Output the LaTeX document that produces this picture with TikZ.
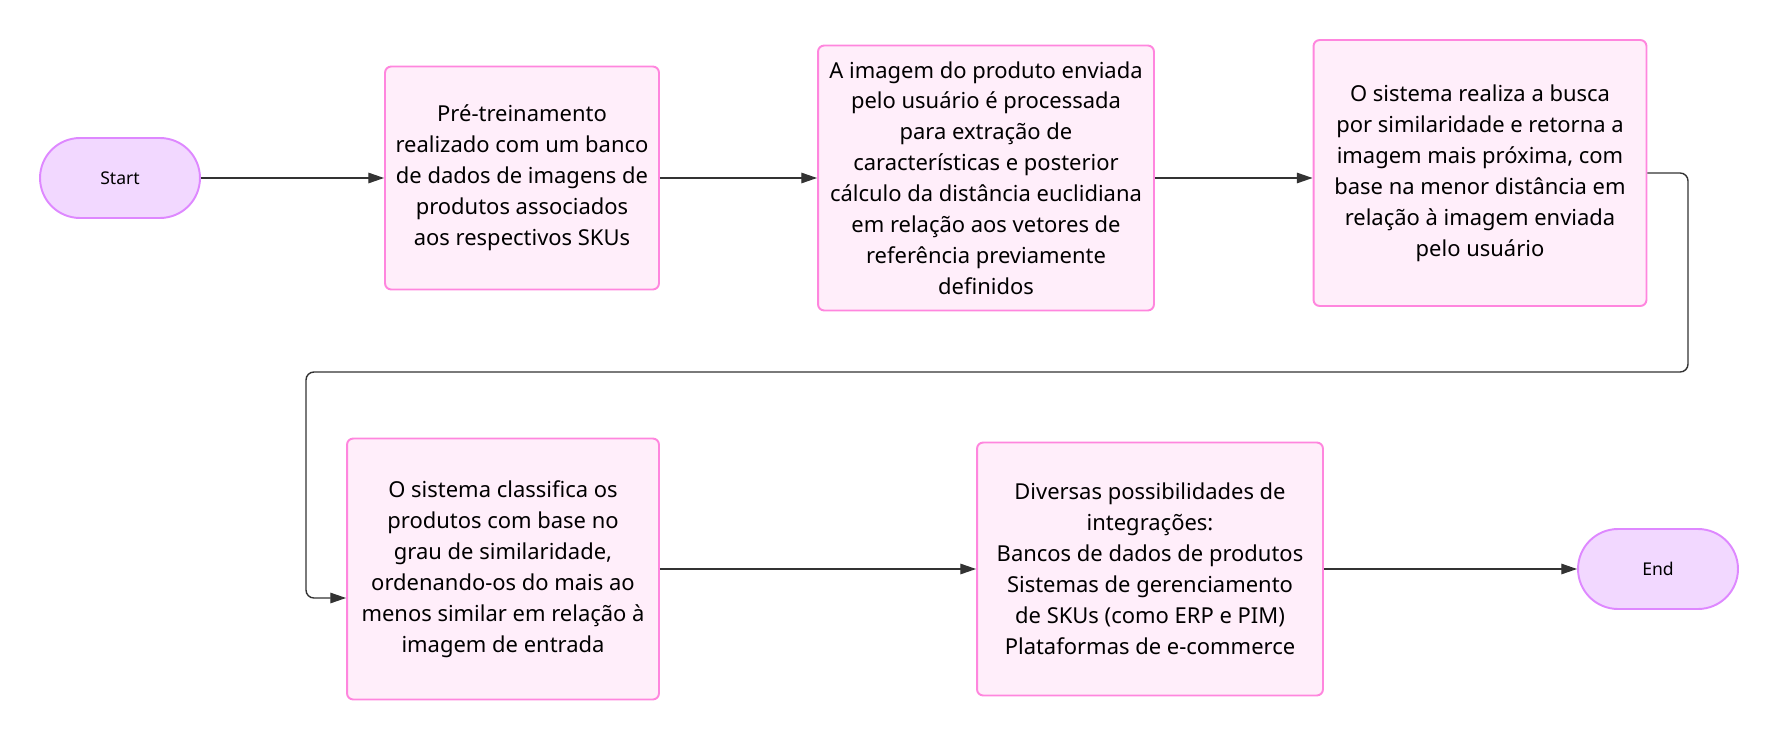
\documentclass[tikz,border=0pt]{standalone}
\usepackage{fontspec}
\setmainfont{Noto Sans}
\usepackage{tikz}
\usetikzlibrary{arrows.meta,positioning}
\definecolor{stepfill}{RGB}{255,238,250}
\definecolor{stepline}{RGB}{255,134,222}
\definecolor{termfill}{RGB}{242,216,255}
\definecolor{termline}{RGB}{222,136,255}
\definecolor{linkgray}{RGB}{51,51,51}

\begin{document}
\begin{tikzpicture}[x=0.02cm, y=-0.02cm,
    stepbox/.style={rectangle, rounded corners=3.5pt, draw=stepline, line width=1.1pt, fill=stepfill, align=center, inner sep=0pt, font=\fontsize{12.5}{17.6}\selectfont},
    term/.style={rectangle, rounded corners=0.8cm, draw=termline, line width=1.1pt, fill=termfill, minimum width=3.2cm, minimum height=1.6cm, font=\fontsize{10}{12}\selectfont},
    arrow/.style={-{Triangle[length=9pt, width=6pt]}, line width=0.8pt, linkgray}
]
\useasboundingbox (0,0) rectangle (1779,740);

\node[term] (start) at (120,178) {Start};
\node[stepbox, minimum width=5.48cm, minimum height=4.46cm] (p1) at (522,178) {Pré-treinamento\\realizado com um banco\\de dados de imagens de\\produtos associados\\aos respectivos SKUs};
\node[stepbox, minimum width=6.72cm, minimum height=5.3cm] (p2) at (986,178) {A imagem do produto enviada\\pelo usuário é processada\\para extração de\\características e posterior\\cálculo da distância euclidiana\\em relação aos vetores de\\referência previamente\\definidos};
\node[stepbox, minimum width=6.66cm, minimum height=5.32cm] (p3) at (1480,173) {O sistema realiza a busca\\por similaridade e retorna a\\imagem mais próxima, com\\base na menor distância em\\relação à imagem enviada\\pelo usuário};
\node[stepbox, minimum width=6.24cm, minimum height=5.22cm] (p4) at (503,569) {O sistema classifica os\\produtos com base no\\grau de similaridade,\\ordenando-os do mais ao\\menos similar em relação à\\imagem de entrada};
\node[stepbox, minimum width=6.92cm, minimum height=5.06cm] (p5) at (1150,569) {Diversas possibilidades de\\integrações:\\Bancos de dados de produtos\\Sistemas de gerenciamento\\de SKUs (como ERP e PIM)\\Plataformas de e-commerce};
\node[term] (finish) at (1658,569) {End};

\coordinate (turn) at (1688,372);
\coordinate (back) at (306,598);

\draw[arrow] (start) -- (p1);
\draw[arrow] (p1) -- (p2);
\draw[arrow] (p2.east) -- (p2.east -| p3.west);
\draw[arrow, rounded corners=4.5pt] (p3.east) -| (turn) -| (back) -- (back -| p4.west);
\draw[arrow] (p4.east) -- (p5.west);
\draw[arrow] (p5) -- (finish);

\end{tikzpicture}
\end{document}
